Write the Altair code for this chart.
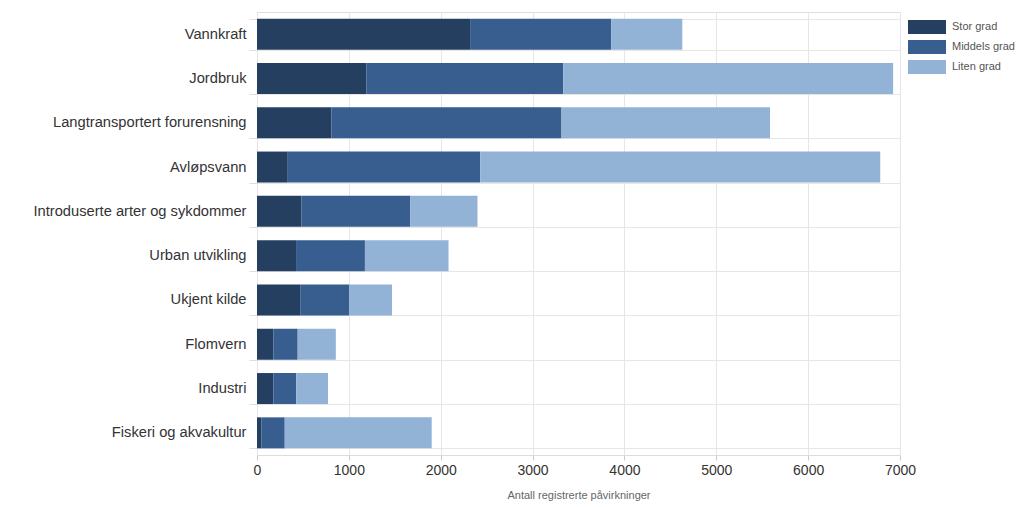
import altair as alt
import pandas as pd

categories = ["Vannkraft", "Jordbruk", "Langtransportert forurensning", "Avløpsvann",
              "Introduserte arter og sykdommer", "Urban utvikling", "Ukjent kilde",
              "Flomvern", "Industri", "Fiskeri og akvakultur"]
series = ["Stor grad", "Middels grad", "Liten grad"]
stor = [2320, 1190, 810, 335, 485, 425, 470, 178, 178, 47]
middels = [1535, 2145, 2505, 2095, 1185, 750, 535, 265, 250, 255]
liten = [775, 3590, 2270, 4355, 730, 910, 465, 415, 345, 1600]
colors = ["#253f61", "#385d8f", "#93b3d6"]

rows = []
for i, c in enumerate(categories):
    for j, (s, vals) in enumerate(zip(series, [stor, middels, liten])):
        rows.append({"kilde": c, "grad": s, "verdi": vals[i], "rekkefolge": j})
df = pd.DataFrame(rows)

chart = alt.Chart(df).mark_bar(size=31).encode(
    y=alt.Y("kilde:N", sort=categories, title=None,
            scale=alt.Scale(paddingInner=0.3, paddingOuter=0.15),
            axis=alt.Axis(labelFontSize=14.7, labelColor="#333333", labelFont="Liberation Sans",
                          grid=True, gridColor="#e6e6e6", bandPosition=0,
                          ticks=True, tickSize=8, tickColor="#dddddd", tickBand="extent",
                          domain=False, labelPadding=3, labelLimit=300)),
    x=alt.X("verdi:Q", stack="zero", title="Antall registrerte påvirkninger",
            scale=alt.Scale(domain=[0, 7000], nice=False),
            axis=alt.Axis(values=list(range(0, 7001, 1000)), format="d", labelFontSize=14,
                          labelColor="#333333", labelFont="Liberation Sans", labelFlush=False,
                          titleFontSize=11, titleColor="#666666", titleFont="Liberation Sans",
                          titleFontWeight="normal", titlePadding=12,
                          grid=True, gridColor="#e6e6e6", domain=False,
                          tickSize=5, tickColor="#cccccc", labelPadding=3)),
    color=alt.Color("grad:N", sort=series,
                    scale=alt.Scale(domain=series, range=colors),
                    legend=alt.Legend(title=None, orient="none", legendX=651, legendY=8,
                                      symbolType="M-1,-0.37H1V0.37H-1Z", symbolSize=1444,
                                      symbolStrokeWidth=0, symbolOpacity=1, clipHeight=14,
                                      labelFontSize=11, labelColor="#555555",
                                      labelFont="Liberation Sans", rowPadding=6,
                                      labelOffset=6)),
    order=alt.Order("rekkefolge:Q"),
).properties(
    width=643, height=443,
    autosize=alt.AutoSizeParams(type="none"),
    padding={"left": 257, "top": 12, "right": 124, "bottom": 52},
).configure_view(stroke=None).configure(background="white")

chart.save("out.html", embed_options={"renderer": "svg", "actions": False})
